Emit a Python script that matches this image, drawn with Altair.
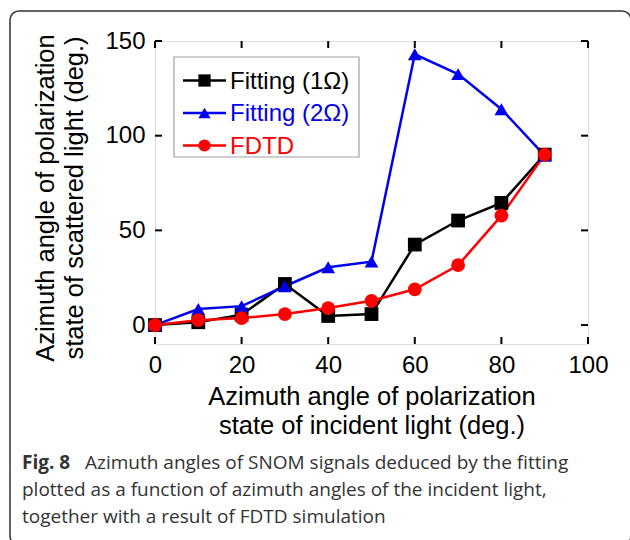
import altair as alt
import pandas as pd

# Incident polarization azimuth (deg.)
angles = [0, 10, 20, 30, 40, 50, 60, 70, 80, 90]

# Azimuth of the scattered light for each method (deg.)
series_names = ["Fitting (1Ω)", "Fitting (2Ω)", "FDTD"]
fit_1omega = [0, 1.5, 5.5, 21.7, 4.8, 5.8, 42.5, 55.2, 64.5, 90]
fit_2omega = [0, 8.5, 10, 20.5, 30.5, 33.5, 143, 132.5, 114, 89.5]
fdtd = [0, 2.6, 3.7, 5.8, 9.0, 12.8, 18.9, 31.6, 57.8, 90]

series_colors = ["#000000", "#0000ee", "#ff0000"]
series_shapes = ["square", "triangle-up", "circle"]

x_ticks = [0, 20, 40, 60, 80, 100]
y_ticks = [0, 50, 100, 150]

caption_bold = "Fig. 8"
caption_lines = [
    "Azimuth angles of SNOM signals deduced by the fitting",
    "plotted as a function of azimuth angles of the incident light,",
    "together with a result of FDTD simulation",
]

rows = []
for name, vals in zip(series_names, [fit_1omega, fit_2omega, fdtd]):
    for a, v in zip(angles, vals):
        rows.append({"angle": a, "value": v, "series": name})
df = pd.DataFrame(rows)

W, H = 433, 303
PAD_L, PAD_T = 155, 41
FONT = "Liberation Sans"

X_ENC = alt.X(
    "angle:Q",
    scale=alt.Scale(domain=[0, 100], nice=False, zero=False),
    axis=alt.Axis(
        values=x_ticks, ticks=False, tickSize=0, domain=False, grid=False,
        labelFontSize=24, labelFont=FONT, labelColor="#000", labelPadding=9,
        labelFlush=False,
        title=["Azimuth angle of polarization", "state of incident light (deg.)"],
        titleFontSize=25.5, titleFont=FONT, titleFontWeight="normal",
        titleColor="#000", titlePadding=7, titleLineHeight=29,
    ),
)
Y_ENC = alt.Y(
    "value:Q",
    scale=alt.Scale(domain=[-10, 150], nice=False, zero=False),
    axis=alt.Axis(
        values=y_ticks, ticks=False, tickSize=0, domain=False, grid=False,
        labelFontSize=24, labelFont=FONT, labelColor="#000", labelPadding=10,
        labelFlush=False,
        title=["Azimuth angle of polarization", "state of scattered light (deg.)"],
        titleFontSize=25.5, titleFont=FONT, titleFontWeight="normal",
        titleColor="#000", titlePadding=17, titleLineHeight=29,
        titleY=H / 2 + 5,
    ),
)

color_scale = alt.Scale(domain=series_names, range=series_colors)

# inward tick marks on all four sides
xt = pd.DataFrame({"angle": x_ticks})
yt = pd.DataFrame({"value": y_ticks})
tick_bottom = alt.Chart(xt).mark_rule(color="#000", strokeWidth=2).encode(
    x=X_ENC, y=alt.value(H), y2=alt.value(H - 7))
tick_top = alt.Chart(xt).mark_rule(color="#000", strokeWidth=2).encode(
    x=X_ENC, y=alt.value(0), y2=alt.value(7))
tick_left = alt.Chart(yt).mark_rule(color="#000", strokeWidth=2).encode(
    y=Y_ENC, x=alt.value(0), x2=alt.value(7))
tick_right = alt.Chart(yt).mark_rule(color="#000", strokeWidth=2).encode(
    y=Y_ENC, x=alt.value(W), x2=alt.value(W - 7))

base = alt.Chart(df).encode(x=X_ENC, y=Y_ENC)

lines = base.mark_line(strokeWidth=2.5).encode(
    color=alt.Color("series:N", scale=color_scale, legend=None),
    detail="series:N",
)
points = base.mark_point(filled=True, size=190, opacity=1).encode(
    color=alt.Color("series:N", scale=color_scale, legend=None),
    shape=alt.Shape("series:N", scale=alt.Scale(domain=series_names, range=series_shapes), legend=None),
)

one = pd.DataFrame({"k": [0]})

# legend box in the upper-left corner of the plot
LEG_X0, LEG_X1, LEG_Y0, LEG_Y1 = 174 - PAD_L, 359 - PAD_L, 57 - PAD_T, 157 - PAD_T
legend_layers = [
    alt.Chart(one).mark_rect(fill="white", stroke="#a0a0a0", strokeWidth=1.2).encode(
        x=alt.value(LEG_X0), x2=alt.value(LEG_X1), y=alt.value(LEG_Y0), y2=alt.value(LEG_Y1))
]
for i, (name, col, shp) in enumerate(zip(series_names, series_colors, series_shapes)):
    yc = 80.5 - PAD_T + 32.5 * i
    legend_layers += [
        alt.Chart(one).mark_rule(color=col, strokeWidth=2.5).encode(
            x=alt.value(183 - PAD_L), x2=alt.value(226 - PAD_L), y=alt.value(yc)),
        alt.Chart(one).mark_point(shape=shp, filled=True, size=150, color=col, opacity=1).encode(
            x=alt.value(204.5 - PAD_L), y=alt.value(yc)),
        alt.Chart(one).mark_text(text=name, color=col, font=FONT, fontSize=24,
                                 align="left", baseline="middle").encode(
            x=alt.value(230 - PAD_L), y=alt.value(yc + 1)),
    ]

# rounded figure frame and caption below the plot
frame = alt.Chart(one).mark_rect(
    fill=None, stroke="#333333", strokeWidth=1.5, cornerRadius=9
).encode(x=alt.value(10 - PAD_L), x2=alt.value(631 - PAD_L),
         y=alt.value(11 - PAD_T), y2=alt.value(545 - PAD_T))

CAP_FONT = "Open Sans"
CAP_SIZE = 19
cap_layers = [
    alt.Chart(one).mark_text(
        text=caption_bold, font=CAP_FONT, fontSize=CAP_SIZE, fontWeight="bold",
        align="left", baseline="middle", color="#333333"
    ).encode(x=alt.value(22 - PAD_L), y=alt.value(463 - PAD_T))
]
for i, line in enumerate(caption_lines):
    x0 = 85 if i == 0 else 22
    cap_layers.append(
        alt.Chart(one).mark_text(
            text=line, font=CAP_FONT, fontSize=CAP_SIZE,
            align="left", baseline="middle", color="#333333"
        ).encode(x=alt.value(x0 - PAD_L), y=alt.value(463 + 27 * i - PAD_T))
    )

chart = alt.layer(
    frame, tick_bottom, tick_top, tick_left, tick_right,
    lines, points, *legend_layers, *cap_layers
).properties(
    width=W, height=H,
    padding={"left": PAD_L, "top": PAD_T, "right": 42, "bottom": 196},
    autosize="none",
).configure_view(stroke="#000", strokeWidth=2.5).configure(background="white")

chart.save("out.html", embed_options={"renderer": "svg", "actions": False})
